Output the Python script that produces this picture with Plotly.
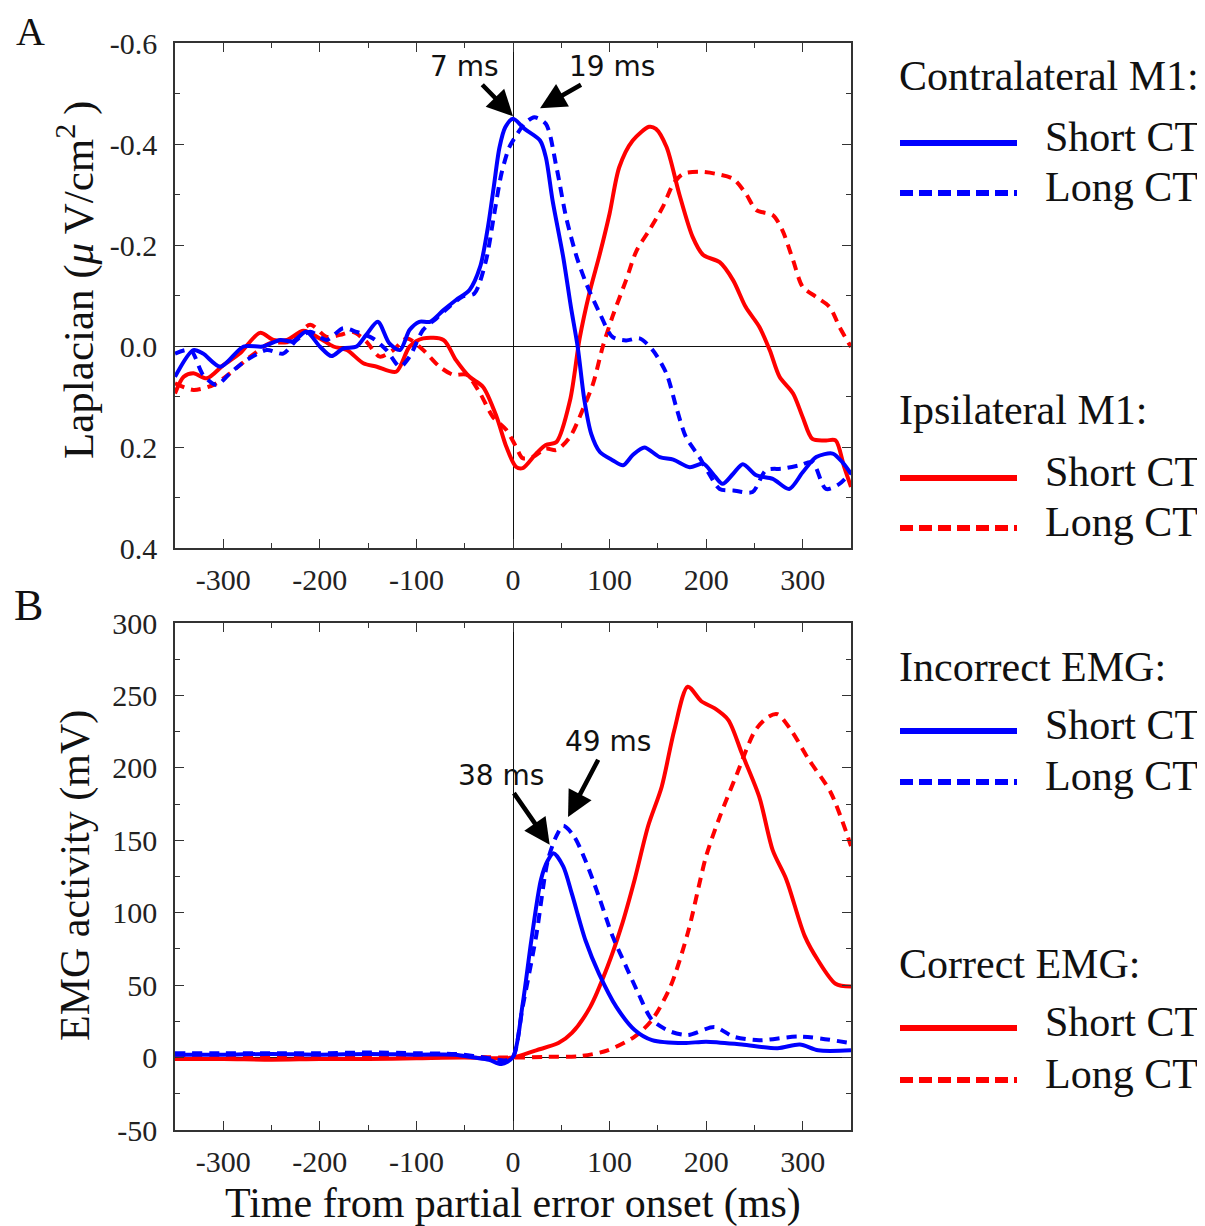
import plotly.graph_objects as go

# ---------------- Data ----------------
# Panel A: Laplacian (µV/cm²)
contra_short_x = [-350, -331, -321, -303, -279, -259, -241, -228, -214, -200, -188, -176, -162, -152, -140, -128, -117, -107, -97, -86, -72, -59, -45, -34, -26, -20, -14, -8, 0, 12, 28, 34, 41, 52, 60, 67, 74, 81, 90, 103, 114, 124, 136, 152, 166, 183, 197, 207, 217, 228, 238, 252, 269, 286, 300, 314, 331, 341, 350]
contra_short_y = [0.061, 0.008, 0.015, 0.041, 0.001, 0.001, -0.012, -0.009, -0.028, 0.001, 0.02, 0.005, 0.001, -0.022, -0.048, -0.005, 0.008, -0.032, -0.048, -0.048, -0.071, -0.091, -0.111, -0.157, -0.235, -0.314, -0.393, -0.433, -0.45, -0.43, -0.407, -0.374, -0.288, -0.176, -0.077, 0.002, 0.108, 0.174, 0.21, 0.226, 0.236, 0.216, 0.201, 0.22, 0.225, 0.24, 0.233, 0.253, 0.273, 0.253, 0.234, 0.256, 0.263, 0.283, 0.25, 0.22, 0.213, 0.23, 0.253]

contra_long_x = [-350, -334, -321, -307, -293, -276, -255, -238, -224, -210, -193, -176, -162, -145, -131, -117, -107, -93, -79, -66, -52, -40, -28, -20, -12, -4, 2, 12, 22, 34, 45, 55, 66, 76, 90, 103, 117, 131, 145, 159, 169, 179, 193, 203, 214, 228, 248, 262, 279, 297, 310, 324, 338, 350]
contra_long_y = [0.015, 0.008, 0.057, 0.077, 0.054, 0.028, 0.008, 0.015, -0.012, -0.028, -0.012, -0.035, -0.028, -0.015, 0.008, 0.041, 0.021, -0.032, -0.055, -0.078, -0.098, -0.104, -0.169, -0.255, -0.341, -0.393, -0.413, -0.44, -0.453, -0.44, -0.354, -0.255, -0.176, -0.123, -0.064, -0.018, -0.011, -0.015, 0.009, 0.055, 0.121, 0.18, 0.22, 0.253, 0.283, 0.286, 0.289, 0.246, 0.243, 0.236, 0.23, 0.283, 0.273, 0.25]

ipsi_short_x = [-350, -341, -331, -317, -300, -283, -262, -248, -234, -217, -200, -186, -172, -155, -141, -121, -107, -93, -72, -59, -45, -31, -17, -7, 3, 10, 24, 34, 45, 59, 69, 79, 90, 100, 110, 124, 141, 148, 159, 172, 186, 197, 214, 228, 241, 255, 266, 276, 290, 300, 310, 324, 334, 343, 350]
ipsi_short_y = [0.094, 0.061, 0.054, 0.064, 0.038, 0.015, -0.026, -0.012, -0.012, -0.03, -0.015, 0.001, 0.008, 0.034, 0.041, 0.051, 0.001, -0.015, -0.012, 0.028, 0.061, 0.081, 0.14, 0.199, 0.239, 0.242, 0.213, 0.196, 0.19, 0.108, -0.015, -0.104, -0.183, -0.262, -0.354, -0.407, -0.434, -0.43, -0.394, -0.302, -0.216, -0.18, -0.166, -0.13, -0.077, -0.038, 0.009, 0.061, 0.094, 0.141, 0.184, 0.187, 0.187, 0.24, 0.279]

ipsi_long_x = [-350, -331, -310, -293, -272, -252, -231, -210, -193, -179, -166, -152, -138, -124, -110, -93, -76, -62, -48, -34, -21, -7, 3, 10, 21, 34, 45, 59, 72, 83, 93, 103, 117, 128, 141, 155, 166, 176, 193, 210, 228, 241, 252, 269, 279, 290, 300, 314, 328, 338, 350]
ipsi_long_y = [0.074, 0.087, 0.077, 0.054, 0.021, -0.005, -0.009, -0.042, -0.018, -0.022, -0.028, -0.009, 0.021, 0.008, -0.015, 0.008, 0.041, 0.057, 0.057, 0.094, 0.14, 0.166, 0.199, 0.222, 0.219, 0.203, 0.206, 0.18, 0.127, 0.074, 0.001, -0.058, -0.13, -0.189, -0.229, -0.275, -0.321, -0.341, -0.345, -0.341, -0.331, -0.302, -0.269, -0.259, -0.229, -0.17, -0.117, -0.097, -0.077, -0.038, 0.002]

# Panel B: EMG activity (mV)
inc_short_x = [-350, -300, -250, -200, -150, -100, -60, -40, -25, -12, 0, 10, 19, 29, 36, 42, 52, 61, 75, 89, 107, 126, 144, 177, 200, 237, 274, 297, 316, 350]
inc_short_y = [2, 2, 2.5, 2, 2.5, 2, 2, 0, -1.5, -4.5, 0.5, 37, 81, 123, 136, 141, 132, 113, 81, 58, 35, 19, 12, 10, 11, 9, 6.5, 9, 5, 5]

inc_long_x = [-350, -300, -250, -200, -150, -100, -60, -40, -20, -8, 0, 10, 24, 36, 45, 52, 63, 75, 89, 103, 117, 130, 144, 163, 181, 209, 228, 255, 297, 350]
inc_long_y = [3, 3, 3, 3, 3.5, 3, 2.5, 1, -1, -2, 0.5, 35, 84, 136, 153, 160, 153, 136, 111, 84, 63, 44, 26, 18, 15.6, 21, 14.5, 12, 14.5, 10]

cor_short_x = [-350, -300, -250, -200, -150, -100, -50, -20, 0, 24, 47, 61, 80, 98, 112, 126, 140, 154, 167, 181, 195, 209, 223, 237, 255, 269, 283, 302, 316, 334, 350]
cor_short_y = [-1, -1, -1.5, -1, -1, -0.5, 0, -0.5, 0, 5, 10, 17, 35, 63, 90, 123, 160, 187, 226, 256, 246, 241, 233, 210, 180, 143, 123, 84, 67, 51, 49]

cor_long_x = [-350, -300, -250, -200, -150, -100, -50, 0, 35, 70, 98, 126, 144, 163, 181, 200, 214, 232, 251, 265, 274, 288, 306, 329, 350]
cor_long_y = [0, 0, 0, 0, 0, 0, 0.5, 0, 0.5, 1, 5, 14.5, 26, 49, 86, 139, 166, 196, 226, 235.5, 237, 226, 206, 183, 146]

# Ticks
x_tickvals = [-300, -200, -100, 0, 100, 200, 300]
x_ticktext = ["-300", "-200", "-100", "0", "100", "200", "300"]
ya_tickvals = [-0.6, -0.4, -0.2, 0.0, 0.2, 0.4]
ya_ticktext = ["-0.6", "-0.4", "-0.2", "0.0", "0.2", "0.4"]
yb_tickvals = [-50, 0, 50, 100, 150, 200, 250, 300]
yb_ticktext = ["-50", "0", "50", "100", "150", "200", "250", "300"]

# Peak annotations: (label, text-centre x, text-centre y, arrow tip x, tip y)
peaks_a = [("7 ms", -50, -0.553, 0, -0.455),
           ("19 ms", 103, -0.553, 28, -0.471)]
peaks_b = [("38 ms", -12, 195, 38, 147),
           ("49 ms", 98, 218, 57, 166)]

# ---------------- Figure ----------------
W, H = 1205, 1226
OFF = 8  # page body margin of the browser
BLUE = "#0000ff"
RED = "#ff0000"
DASH = "10px,7px"
SERIF = "Liberation Serif, Times New Roman, serif"
SANS = "DejaVu Sans, sans-serif"

fig = go.Figure()

def add(x, y, color, dash, name, xa, ya):
    fig.add_trace(go.Scatter(
        x=x, y=y, mode="lines", name=name, showlegend=False,
        line=dict(color=color, width=4, dash=dash, shape="spline", smoothing=0.8),
        xaxis=xa, yaxis=ya, hoverinfo="x+y+name"))

add(ipsi_short_x, ipsi_short_y, RED, "solid", "Ipsilateral M1 - Short CT", "x", "y")
add(ipsi_long_x, ipsi_long_y, RED, DASH, "Ipsilateral M1 - Long CT", "x", "y")
add(contra_short_x, contra_short_y, BLUE, "solid", "Contralateral M1 - Short CT", "x", "y")
add(contra_long_x, contra_long_y, BLUE, DASH, "Contralateral M1 - Long CT", "x", "y")

add(cor_short_x, cor_short_y, RED, "solid", "Correct EMG - Short CT", "x2", "y2")
add(cor_long_x, cor_long_y, RED, DASH, "Correct EMG - Long CT", "x2", "y2")
add(inc_short_x, inc_short_y, BLUE, "solid", "Incorrect EMG - Short CT", "x2", "y2")
add(inc_long_x, inc_long_y, BLUE, DASH, "Incorrect EMG - Long CT", "x2", "y2")

def PX(px):
    return (px - OFF) / W

def PY(py):
    return 1 - (py - OFF) / H

def P(px, py):
    return PX(px), PY(py)

xdom = [PX(175), PX(851)]
ydomA = [PY(548), PY(43)]
ydomB = [PY(1130), PY(623)]

tickfont = dict(family=SERIF, size=30, color="#222")
common = dict(showline=True, linecolor="#333", linewidth=1.5, mirror="ticks",
              ticks="inside", ticklen=9, tickwidth=1.2, tickcolor="#333",
              showgrid=False, zeroline=True, zerolinecolor="#111", zerolinewidth=1.2,
              tickfont=tickfont, automargin=False)

xcommon = dict(common, range=[-350, 350], tickmode="array", tickvals=x_tickvals,
               ticktext=x_ticktext, domain=xdom, ticklabelstandoff=4,
               minor=dict(ticks="inside", ticklen=5, dtick=50, tick0=0, tickcolor="#333", tickwidth=1.2))

fig.update_layout(
    width=W, height=H, margin=dict(l=0, r=0, t=0, b=0, pad=0, autoexpand=False),
    paper_bgcolor="white", plot_bgcolor="white", showlegend=False,
    xaxis=dict(xcommon, anchor="y"),
    yaxis=dict(common, range=[0.4, -0.6], tickmode="array", tickvals=ya_tickvals,
               ticktext=ya_ticktext, domain=ydomA, anchor="x", ticklabelstandoff=10,
               minor=dict(ticks="inside", ticklen=5, dtick=0.1, tick0=0, tickcolor="#333", tickwidth=1.2)),
    xaxis2=dict(xcommon, anchor="y2"),
    yaxis2=dict(common, range=[-50, 300], tickmode="array", tickvals=yb_tickvals,
                ticktext=yb_ticktext, domain=ydomB, anchor="x2", ticklabelstandoff=10,
                minor=dict(ticks="inside", ticklen=5, dtick=25, tick0=0, tickcolor="#333", tickwidth=1.2)),
)

ann = []
shapes = []

# peak labels with arrows (text sits at ax/ay, arrow points at the peak)
for peaks, xr, yr in [(peaks_a, "x", "y"), (peaks_b, "x2", "y2")]:
    for lab, tx, ty, px, py in peaks:
        ann.append(dict(x=px, y=py, xref=xr, yref=yr, ax=tx, ay=ty, axref=xr, ayref=yr,
                        text=lab, showarrow=True, arrowhead=2, arrowsize=1.15,
                        arrowwidth=4.5, arrowcolor="#000", standoff=0, startstandoff=0,
                        font=dict(family=SANS, size=28, color="#111")))

# panel letters
for letter, px, py, fs in [("A", 30, 32, 40), ("B", 28, 606, 44)]:
    x, y = P(px, py)
    ann.append(dict(x=x, y=y, xref="paper", yref="paper", text=letter, showarrow=False,
                    font=dict(family=SERIF, size=fs, color="#111"),
                    xanchor="center", yanchor="middle"))

# axis titles
x, y = P(75, 280)
ann.append(dict(x=x, y=y, xref="paper", yref="paper", textangle=-90, showarrow=False,
                text="Laplacian (<i>μ</i>&#8201;V/cm<sup>2</sup>&#8201;)",
                font=dict(family=SERIF, size=43, color="#111"), xanchor="center", yanchor="middle"))
x, y = P(75, 876)
ann.append(dict(x=x, y=y, xref="paper", yref="paper", textangle=-90, showarrow=False,
                text="EMG activity (mV)",
                font=dict(family=SERIF, size=42, color="#111"), xanchor="center", yanchor="middle"))
x, y = P(513, 1203)
ann.append(dict(x=x, y=y, xref="paper", yref="paper", showarrow=False,
                text="Time from partial error onset (ms)",
                font=dict(family=SERIF, size=42, color="#111"), xanchor="center", yanchor="middle"))

# custom legends (long line samples, as in the reference)
legend_groups = [
    ("Contralateral M1:", 76, BLUE, 143, 193),
    ("Ipsilateral M1:", 410, RED, 478, 528),
    ("Incorrect EMG:", 667, BLUE, 731, 782),
    ("Correct EMG:", 964, RED, 1028, 1080),
]
for title, ty, color, y_solid, y_dash in legend_groups:
    x, y = P(897, ty)
    ann.append(dict(x=x, y=y, xref="paper", yref="paper", text=title, showarrow=False,
                    font=dict(family=SERIF, size=42, color="#111"), xanchor="left", yanchor="middle"))
    for lab, yy, dash in [("Short CT", y_solid, "solid"), ("Long CT", y_dash, "dash")]:
        x0, y0 = P(900, yy)
        x1, _ = P(1017, yy)
        shapes.append(dict(type="line", xref="paper", yref="paper", x0=x0, x1=x1, y0=y0, y1=y0,
                           line=dict(color=color, width=6,
                                     dash="solid" if dash == "solid" else "13px,6px")))
        x, y = P(1043, yy - 6)
        ann.append(dict(x=x, y=y, xref="paper", yref="paper", text=lab, showarrow=False,
                        font=dict(family=SERIF, size=42, color="#111"), xanchor="left", yanchor="middle"))

fig.update_layout(annotations=ann, shapes=shapes)
fig.write_html("out.html")
